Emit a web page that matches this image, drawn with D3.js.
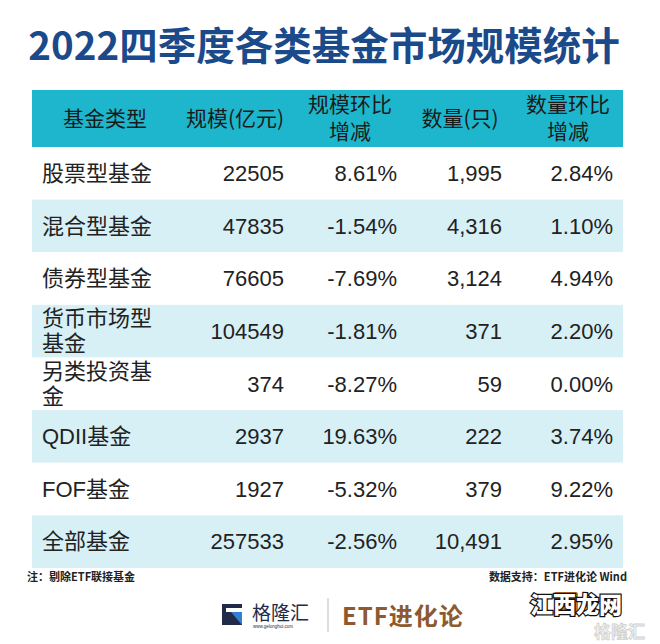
<!DOCTYPE html>
<html>
<head>
<meta charset="utf-8">
<script src="https://cdn.jsdelivr.net/npm/d3@7"></script>
<style>
html,body{margin:0;padding:0;background:#fff;}
svg{display:block;}
</style>
</head>
<body>
<svg id="chart" width="660" height="644"></svg>
<script>
// ---- data ----
const title = "2022四季度各类基金市场规模统计";
const headers = [["基金类型"], ["规模(亿元)"], ["规模环比", "增减"], ["数量(只)"], ["数量环比", "增减"]];
const categories = [["股票型基金"], ["混合型基金"], ["债券型基金"], ["货币市场型", "基金"], ["另类投资基", "金"], ["QDII基金"], ["FOF基金"], ["全部基金"]];
const scaleValues = [22505, 47835, 76605, 104549, 374, 2937, 1927, 257533];
const scaleChange = [8.61, -1.54, -7.69, -1.81, -8.27, 19.63, -5.32, -2.56];
const fundCounts = [1995, 4316, 3124, 371, 59, 222, 379, 10491];
const countChange = [2.84, 1.10, 4.94, 2.20, 0.00, 3.74, 9.22, 2.95];
const noteLeft = "注：剔除ETF联接基金";
const noteRight = "数据支持：ETF进化论 Wind";

// ---- layout ----
const svg = d3.select("#chart");
const tableLeft = 32, tableRight = 623;
const headTop = 90, headBottom = 147, tableBottom = 568;
const cjk = "'Noto Sans CJK SC', sans-serif";
const mixed = "'Liberation Sans', Arial, 'Noto Sans CJK SC', sans-serif";

const y = d3.scaleBand().domain(d3.range(categories.length)).range([headBottom, tableBottom]).padding(0);

// title
svg.append("text")
  .attr("x", 324).attr("y", 60)
  .attr("text-anchor", "middle")
  .attr("font-family", cjk).attr("font-weight", 700)
  .attr("font-size", 38.5).attr("fill", "#1b4a8a")
  .text(title);

// header background
svg.append("rect")
  .attr("x", tableLeft).attr("y", headTop)
  .attr("width", tableRight - tableLeft).attr("height", headBottom - headTop)
  .attr("fill", "#1db6cc");

const headCenters = [105, 235, 350, 460, 568];
headers.forEach((lines, i) => {
  const t = svg.append("text")
    .attr("text-anchor", "middle")
    .attr("font-family", cjk).attr("font-size", 21).attr("fill", "#1a1a1a");
  const mid = (headTop + headBottom) / 2;
  const lh = 27;
  lines.forEach((ln, k) => {
    t.append("tspan")
      .attr("x", headCenters[i])
      .attr("y", mid + (k - (lines.length - 1) / 2) * lh)
      .attr("dy", "0.35em")
      .text(ln);
  });
});

// row stripes
svg.append("g").selectAll("rect")
  .data(d3.range(categories.length))
  .join("rect")
  .attr("x", tableLeft).attr("y", d => y(d))
  .attr("width", tableRight - tableLeft).attr("height", y.bandwidth())
  .attr("fill", d => d % 2 === 1 ? "#d6f0f6" : "#ffffff");

const fmtInt = d3.format(",d");
const fmtPct = d => d.toFixed(2) + "%";

const cols = [
  {x: 42, anchor: "start", vals: categories, f: d => d},
  {x: 284, anchor: "end", vals: scaleValues, f: d => [String(d)]},
  {x: 397, anchor: "end", vals: scaleChange, f: d => [fmtPct(d)]},
  {x: 502, anchor: "end", vals: fundCounts, f: d => [fmtInt(d)]},
  {x: 613, anchor: "end", vals: countChange, f: d => [fmtPct(d)]}
];

cols.forEach(c => {
  c.vals.forEach((v, i) => {
    const lines = c.f(v);
    const t = svg.append("text")
      .attr("text-anchor", c.anchor)
      .attr("font-family", mixed).attr("font-size", 22).attr("fill", "#222");
    const mid = y(i) + y.bandwidth() / 2;
    const lh = 25;
    lines.forEach((ln, k) => {
      t.append("tspan")
        .attr("x", c.x)
        .attr("y", mid + (k - (lines.length - 1) / 2) * lh)
        .attr("dy", "0.35em")
        .text(ln);
    });
  });
});

// footnotes
svg.append("text").attr("x", 27).attr("y", 581)
  .attr("font-family", cjk).attr("font-weight", 700).attr("font-size", 11).attr("fill", "#222")
  .text(noteLeft);
svg.append("text").attr("x", 627).attr("y", 581).attr("text-anchor", "end")
  .attr("font-family", cjk).attr("font-weight", 700).attr("font-size", 11).attr("fill", "#222")
  .text(noteRight);

// logo: gelonghui
const logo = svg.append("g");
logo.append("rect").attr("x", 222).attr("y", 604).attr("width", 20).attr("height", 21).attr("fill", "#1f2b48");
logo.append("path").attr("d", "M231,612 L242,612 L242,625 Z").attr("fill", "#2f7fd6");
logo.append("rect").attr("x", 226).attr("y", 608).attr("width", 16).attr("height", 4).attr("fill", "#fff");
logo.append("text").attr("x", 252).attr("y", 620)
  .attr("font-family", cjk).attr("font-size", 19).attr("fill", "#1f2b48")
  .text("格隆汇");
logo.append("text").attr("x", 253).attr("y", 628)
  .attr("font-family", mixed).attr("font-size", 4.5).attr("fill", "#1f2b48")
  .text("www.gelonghui.com");
logo.append("line").attr("x1", 328).attr("x2", 328).attr("y1", 598).attr("y2", 632)
  .attr("stroke", "#bbb").attr("stroke-width", 1);
logo.append("text").attr("x", 342).attr("y", 625)
  .attr("font-family", cjk).attr("font-weight", 700).attr("font-size", 24).attr("fill", "#8c5a2e")
  .attr("letter-spacing", 1)
  .text("ETF进化论");

// watermark
const wm = svg.append("g");
wm.append("rect").attr("x", 554).attr("y", 592).attr("width", 24).attr("height", 23).attr("fill", "#c8761e").attr("rx", 2);
wm.append("text").attr("x", 530).attr("y", 613)
  .attr("font-family", cjk).attr("font-weight", 900).attr("font-size", 23)
  .attr("fill", "#fff").attr("stroke", "#111").attr("stroke-width", 2.5).attr("paint-order", "stroke")
  .text("江西龙网");
wm.append("text").attr("x", 594).attr("y", 638)
  .attr("font-family", cjk).attr("font-weight", 700).attr("font-size", 17)
  .attr("fill", "#f6f6f6").attr("stroke", "#d0d0d0").attr("stroke-width", 0.8)
  .text("格隆汇");
</script>
</body>
</html>
